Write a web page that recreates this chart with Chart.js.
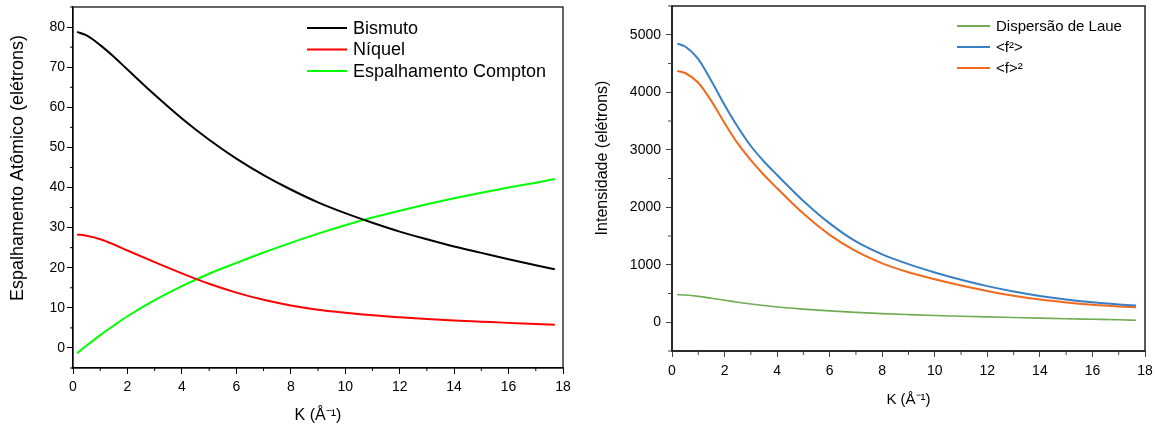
<!DOCTYPE html>
<html lang="pt">
<head>
<meta charset="UTF-8" />
<title>Espalhamento atômico</title>
<script src="https://cdn.jsdelivr.net/npm/chart.js"></script>
<style>
  body { margin: 0; background: #fff; }
  .box { position: absolute; top: 0; height: 431px; }
  #left { left: 0; width: 580px; }
  #right { left: 580px; width: 576px; }
</style>
</head>
<body>
<div class="box" id="left"><canvas id="chartLeft"></canvas></div>
<div class="box" id="right"><canvas id="chartRight"></canvas></div>

<script>
// left panel: atomic scattering factors
const kLeft = [0.15, 0.5, 1, 1.5, 2, 3, 4, 5, 6, 7, 8, 9, 10, 11, 12, 13, 14, 15, 16, 17, 17.7]
const bismuto = [78.8, 77.9, 75.5, 72.6, 69.4, 63.1, 57.2, 51.9, 47.2, 43.1, 39.5, 36.3, 33.6, 31.2, 29.0, 27.1, 25.3, 23.7, 22.1, 20.6, 19.6]
const niquel = [28.3, 27.95, 27.1, 25.8, 24.3, 21.4, 18.6, 16.0, 13.8, 12.0, 10.6, 9.55, 8.8, 8.15, 7.65, 7.2, 6.85, 6.55, 6.25, 6.0, 5.8]
const compton = [-1.3, 0.6, 3.2, 5.6, 7.9, 11.9, 15.4, 18.5, 21.2, 23.8, 26.2, 28.5, 30.6, 32.5, 34.2, 35.8, 37.3, 38.7, 40.0, 41.2, 42.1]

// right panel: intensities
const kRight = [0.2, 0.5, 1, 1.5, 2, 2.5, 3, 3.5, 4, 5, 6, 7, 8, 9, 10, 11, 12, 13, 14, 15, 16, 17, 17.66]
const laue = [480, 473, 450, 418, 383, 348, 318, 290, 266, 228, 198, 172, 150, 133, 118, 105, 93, 82, 71, 61, 52, 43, 35]
const fSquaredMean = [4845, 4795, 4575, 4195, 3780, 3400, 3065, 2795, 2560, 2110, 1720, 1405, 1180, 1010, 865, 738, 628, 535, 457, 395, 347, 310, 290]
const fMeanSquared = [4370, 4335, 4165, 3845, 3465, 3110, 2820, 2560, 2330, 1890, 1520, 1235, 1025, 870, 748, 640, 545, 462, 395, 345, 305, 275, 260]

const labelsLeft = ['Bismuto', 'Níquel', 'Espalhamento Compton']
const labelsRight = ['Dispersão de Laue', '<f²>', '<f>²']

const FONT = "'Liberation Sans', Arial, sans-serif"
Chart.defaults.font.family = FONT
Chart.defaults.color = '#000'

const toPoints = (xs, ys) => xs.map((x, i) => ({ x: x, y: ys[i] }))

// box around the plot area
const frame = {
    id: 'frame',
    afterDraw(chart, args, opts) {
        const { ctx, chartArea: a } = chart
        ctx.save()
        ctx.strokeStyle = opts.color
        ctx.lineWidth = opts.width
        ctx.strokeRect(a.left, a.top, a.right - a.left, a.bottom - a.top)
        ctx.restore()
    },
}

// short minor ticks for the unlabelled tick values
const minorTicks = {
    id: 'minorTicks',
    afterDraw(chart, args, opts) {
        const { ctx, chartArea: a } = chart
        ctx.save()
        ctx.strokeStyle = opts.color
        ctx.lineWidth = 1
        Object.values(chart.scales).forEach((scale) => {
            scale.ticks.forEach((t) => {
                if (t.label !== '') return
                const p = scale.getPixelForValue(t.value)
                ctx.beginPath()
                if (scale.isHorizontal()) {
                    ctx.moveTo(p, a.bottom)
                    ctx.lineTo(p, a.bottom + opts.length)
                } else {
                    ctx.moveTo(a.left - opts.length, p)
                    ctx.lineTo(a.left, p)
                }
                ctx.stroke()
            })
        })
        ctx.restore()
    },
}

// rotated y title, sits a bit above the plot centre like in the original
const yTitle = {
    id: 'yTitle',
    afterDraw(chart, args, opts) {
        const { ctx } = chart
        ctx.save()
        ctx.font = opts.size + 'px ' + FONT
        ctx.fillStyle = '#000'
        ctx.textAlign = 'center'
        ctx.textBaseline = 'middle'
        ctx.translate(opts.x, opts.y)
        ctx.rotate(-Math.PI / 2)
        ctx.fillText(opts.text, 0, 0)
        ctx.restore()
    },
}

// legend drawn inside the plot, no box
const insideLegend = {
    id: 'insideLegend',
    afterDraw(chart, args, opts) {
        const { ctx } = chart
        ctx.save()
        ctx.font = opts.size + 'px ' + FONT
        ctx.textBaseline = 'middle'
        chart.data.datasets.forEach((ds, i) => {
            const y = opts.y + i * opts.gap
            ctx.strokeStyle = ds.borderColor
            ctx.lineWidth = 2
            ctx.beginPath()
            ctx.moveTo(opts.x, y)
            ctx.lineTo(opts.x + opts.lineLen, y)
            ctx.stroke()
            ctx.fillStyle = '#000'
            ctx.fillText(ds.label, opts.x + opts.lineLen + 6, y + 1)
        })
        ctx.restore()
    },
}

function lineSet(label, xs, ys, color, width) {
    return {
        label: label,
        data: toPoints(xs, ys),
        borderColor: color,
        backgroundColor: color,
        borderWidth: width,
        pointRadius: 0,
        cubicInterpolationMode: 'monotone',
    }
}

function axes(o) {
    const majorColor = (every) => (ctx) => (ctx.tick && ctx.tick.value % every === 0 ? o.axisColor : 'rgba(0,0,0,0)')
    return {
        x: {
            type: 'linear',
            min: 0,
            max: 18,
            afterFit: (s) => {
                s.height = o.xHeight
                s.paddingLeft = 0
                s.paddingRight = 0
            },
            border: { color: o.axisColor, width: o.axisWidth },
            grid: { drawOnChartArea: false, tickLength: 6, tickColor: majorColor(2) },
            ticks: {
                stepSize: 1,
                autoSkip: false,
                maxRotation: 0,
                padding: o.xPad,
                font: { size: o.tickSize },
                callback: (v) => (v % 2 === 0 ? String(v) : ''),
            },
            title: {
                display: true,
                text: 'K (Å⁻¹)',
                font: { size: o.xTitleSize },
                padding: { top: 0, bottom: o.xTitlePad },
            },
        },
        y: {
            type: 'linear',
            min: o.yMin,
            max: o.yMax,
            afterFit: (s) => {
                s.width = o.yWidth
                s.paddingTop = 0
                s.paddingBottom = 0
            },
            border: { color: o.axisColor, width: o.axisWidth },
            grid: { drawOnChartArea: false, tickLength: 6, tickColor: majorColor(o.yMajor) },
            ticks: {
                stepSize: o.yMajor / 2,
                autoSkip: false,
                padding: o.yPad,
                font: { size: o.tickSize },
                callback: (v) => (v % o.yMajor === 0 && v >= 0 && v <= o.yTop ? String(v) : ''),
            },
        },
    }
}

new Chart(document.getElementById('chartLeft'), {
    type: 'line',
    data: {
        datasets: [
            lineSet(labelsLeft[0], kLeft, bismuto, '#000000', 2),
            lineSet(labelsLeft[1], kLeft, niquel, '#ff0000', 2),
            lineSet(labelsLeft[2], kLeft, compton, '#00ff00', 2),
        ],
    },
    options: {
        responsive: true,
        maintainAspectRatio: false,
        animation: false,
        layout: { padding: { top: 7, right: 17, left: 0, bottom: 0 } },
        scales: axes({
            axisColor: '#000', axisWidth: 1.2, xHeight: 63, yWidth: 73,
            xPad: 5, yPad: 2, tickSize: 14, xTitleSize: 16, xTitlePad: 6,
            yMin: -5, yMax: 85, yMajor: 10, yTop: 80,
        }),
        plugins: {
            legend: { display: false },
            tooltip: { enabled: false },
            frame: { color: '#000', width: 1.2 },
            minorTicks: { color: '#000', length: 3 },
            yTitle: { text: 'Espalhamento Atômico (elétrons)', x: 18, y: 168, size: 18 },
            insideLegend: { x: 307, y: 28, gap: 21.5, lineLen: 40, size: 18 },
        },
    },
    plugins: [frame, minorTicks, yTitle, insideLegend],
})

new Chart(document.getElementById('chartRight'), {
    type: 'line',
    data: {
        datasets: [
            lineSet(labelsRight[0], kRight, laue, '#70ad52', 1.6),
            lineSet(labelsRight[1], kRight, fSquaredMean, '#3a7fc3', 2),
            lineSet(labelsRight[2], kRight, fMeanSquared, '#f26a1d', 2),
        ],
    },
    options: {
        responsive: true,
        maintainAspectRatio: false,
        animation: false,
        layout: { padding: { top: 6, right: 11, left: 0, bottom: 0 } },
        scales: axes({
            axisColor: '#444', axisWidth: 2, xHeight: 80, yWidth: 92,
            xPad: 6, yPad: 5, tickSize: 14, xTitleSize: 15, xTitlePad: 22,
            yMin: -500, yMax: 5500, yMajor: 1000, yTop: 5000,
        }),
        plugins: {
            legend: { display: false },
            tooltip: { enabled: false },
            frame: { color: '#222', width: 1.5 },
            minorTicks: { color: '#444', length: 4 },
            yTitle: { text: 'Intensidade (elétrons)', x: 23, y: 158, size: 16 },
            insideLegend: { x: 377, y: 26, gap: 21, lineLen: 33, size: 15 },
        },
    },
    plugins: [frame, minorTicks, yTitle, insideLegend],
})
</script>
</body>
</html>
